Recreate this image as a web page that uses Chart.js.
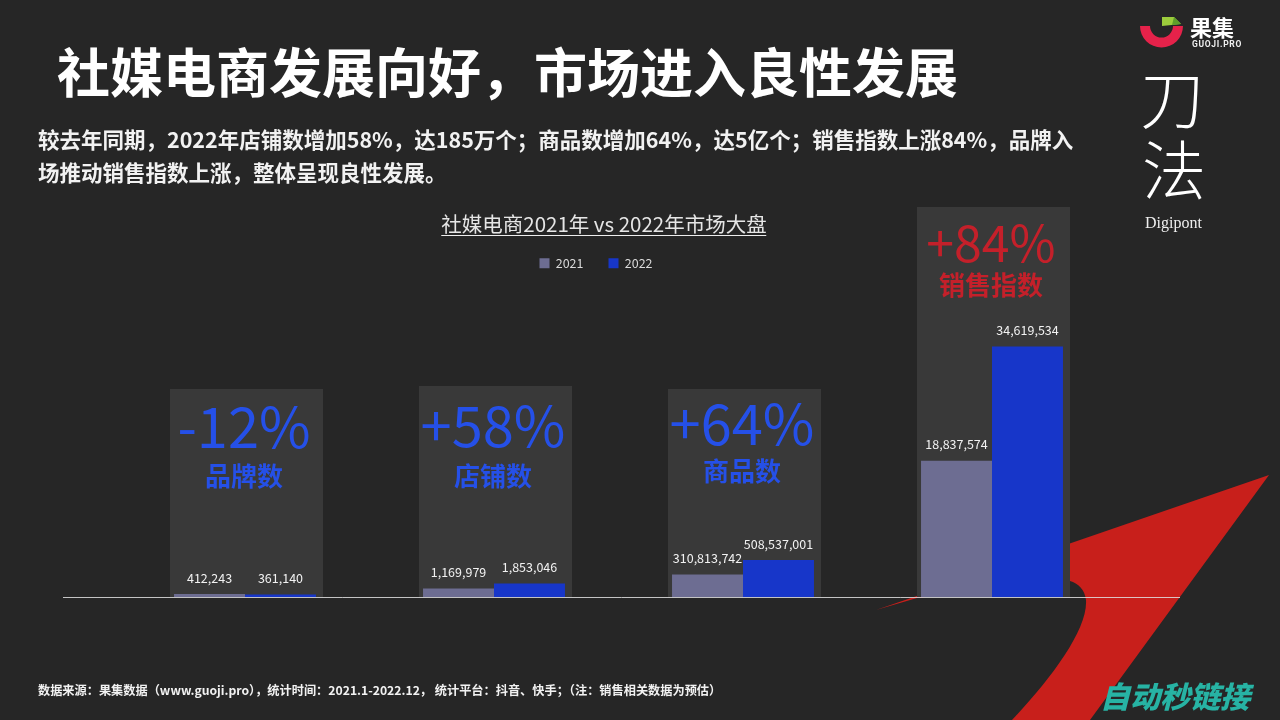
<!DOCTYPE html>
<html><head><meta charset="utf-8">
<script src="https://cdn.jsdelivr.net/npm/chart.js@4.4.0/dist/chart.umd.min.js"></script>
<style>
html,body{margin:0;padding:0;width:1280px;height:720px;overflow:hidden;background:#262626;font-family:'Noto Sans CJK SC',sans-serif;}
#bg{position:absolute;left:0;top:0;}
#wrap{position:absolute;left:0;top:0;width:1280px;height:720px;}
.t{position:absolute;white-space:nowrap;}
#title{left:57px;top:44px;font-size:53px;line-height:53px;font-weight:700;color:#fff;}
#sub{left:38px;top:122px;font-size:21.5px;line-height:33px;font-weight:700;color:#f2f2f2;}
#ctitle{left:604px;top:213px;transform:translateX(-50%);font-size:20.5px;line-height:20px;color:#e6e6e6;border-bottom:1px solid #eee;padding-bottom:2px;}
#foot{left:38px;top:684px;font-size:12.2px;line-height:12px;font-weight:700;color:#f2f2f2;}
#gj{left:1190px;top:15px;font-size:22px;line-height:22px;font-weight:700;color:#fff;}
#gjp{left:1192px;top:40px;font-size:8.5px;line-height:9px;font-weight:700;color:#eee;letter-spacing:0.7px;font-family:'Roboto',sans-serif;}
.big{font-size:64px;line-height:64px;color:#fff;font-weight:300;}
#d1{left:1140px;top:63px;}
#d2{left:1142px;top:134px;}
#dp{left:1145px;top:215px;font-size:16px;line-height:16px;color:#eee;font-family:'Liberation Serif','DejaVu Serif',serif;}
#wm{left:1100px;top:680px;font-size:30px;line-height:30px;font-weight:900;font-style:italic;color:#27b3a4;}
</style></head><body>
<svg id="bg" width="1280" height="720">
  <path d="M 876 610 L 1269 475 L 1090 720 L 1012 720 C 1050 680 1088 630 1086 600 C 1085 590 1078 583 1070 581 L 917 598 Z" fill="#c81f1b"/>
  <path d="M 1140 26 A 21.5 21.5 0 0 0 1183 26 L 1173 26 A 11.5 11.5 0 0 1 1150 26 Z" fill="#e5224a"/>
  <polygon points="1162,17 1174,17 1181,24 1162,26" fill="#9ccc3c"/>
  <polygon points="1174,17 1181,24 1172,25" fill="#5e9e2a"/>
</svg>
<div id="wrap"><canvas id="c" width="1280" height="720"></canvas></div>
<div class="t" id="title">社媒电商发展向好，市场进入良性发展</div>
<div class="t" id="sub">较去年同期，2022年店铺数增加58%，达185万个；商品数增加64%，达5亿个；销售指数上涨84%，品牌入<br>场推动销售指数上涨，整体呈现良性发展。</div>
<div class="t" id="ctitle">社媒电商2021年 vs 2022年市场大盘</div>
<div class="t" id="foot">数据来源：果集数据（www.guoji.pro），统计时间：2021.1-2022.12， 统计平台：抖音、快手；（注：销售相关数据为预估）</div>
<div class="t" id="gj">果集</div>
<div class="t" id="gjp">GUOJI.PRO</div>
<div class="t big" id="d1">刀</div>
<div class="t big" id="d2">法</div>
<div class="t" id="dp">Digipont</div>
<div class="t" id="wm">自动秒链接</div>
<script>
const categories = ['品牌数','店铺数','商品数','销售指数'];
const growthLabels = ['-12%','+58%','+64%','+84%'];
const seriesNames = ['2021','2022'];
const values2021 = [412243, 1169979, 310813742, 18837574];
const values2022 = [361140, 1853046, 508537001, 34619534];
const scaleGroup = ['main','main','goods','main'];

const COLORS = {y2021:'#6d6d92', y2022:'#1736c9', panel:'#393939', blue:'#2550e8', red:'#c4202a'};
const PANEL = {tops:[389,386,389,207], pctBase:[448,447,445,262], pctSize:[56,56,56,50], labCenter:[476,476,471,285]};

function pick(arr, group){ return arr.map((v,i)=> scaleGroup[i]===group ? v : null); }

const datasets = [
  {label:seriesNames[0], data:pick(values2021,'main'), backgroundColor:COLORS.y2021, yAxisID:'y'},
  {label:seriesNames[1], data:pick(values2022,'main'), backgroundColor:COLORS.y2022, yAxisID:'y'},
  {label:seriesNames[0], data:pick(values2021,'goods'), backgroundColor:COLORS.y2021, yAxisID:'yG'},
  {label:seriesNames[1], data:pick(values2022,'goods'), backgroundColor:COLORS.y2022, yAxisID:'yG'}
];

const deco = {
  id:'deco',
  beforeDatasetsDraw(chart){
    const ctx=chart.ctx, x=chart.scales.x, bottom=chart.chartArea.bottom;
    ctx.save();
    categories.forEach((c,i)=>{
      const cx=x.getPixelForValue(i);
      ctx.fillStyle=COLORS.panel;
      ctx.fillRect(cx-75, PANEL.tops[i], 153, bottom-PANEL.tops[i]);
      const col = i===3?COLORS.red:COLORS.blue;
      ctx.fillStyle=col; ctx.textAlign='center';
      ctx.textBaseline='alphabetic';
      ctx.font='400 '+PANEL.pctSize[i]+'px "Noto Sans CJK SC"';
      ctx.fillText(growthLabels[i], cx-1, PANEL.pctBase[i]);
      ctx.font='700 26px "Noto Sans CJK SC"';
      ctx.textBaseline='middle';
      ctx.fillText(c, cx-1, PANEL.labCenter[i]);
    });
    ctx.restore();
  },
  afterDatasetsDraw(chart){
    const ctx=chart.ctx;
    ctx.save();
    ctx.font='400 12.5px "Noto Sans CJK SC"'; ctx.fillStyle='#f2f2f2'; ctx.textAlign='center'; ctx.textBaseline='middle';
    chart.data.datasets.forEach((ds,di)=>{
      const meta=chart.getDatasetMeta(di);
      meta.data.forEach((el,i)=>{
        const v=ds.data[i]; if(v==null) return;
        ctx.fillText(v.toLocaleString('en-US'), el.x, el.y-16);
      });
    });
    const yb=Math.round(chart.chartArea.bottom)+0.5;
    ctx.strokeStyle='rgba(225,225,225,0.85)'; ctx.lineWidth=1;
    ctx.beginPath(); ctx.moveTo(63, yb); ctx.lineTo(1180, yb); ctx.stroke();
    ctx.restore();
  }
};

Chart.defaults.font.family='"Noto Sans CJK SC", sans-serif';
new Chart(document.getElementById('c'), {
  type:'bar',
  data:{labels:categories, datasets:datasets},
  plugins:[deco],
  options:{
    responsive:false, animation:false, devicePixelRatio:1,
    layout:{padding:{top:232,bottom:123,left:0,right:88}},
    datasets:{bar:{skipNull:true, barPercentage:1, categoryPercentage:0.57, borderWidth:0}},
    plugins:{
      legend:{display:true,position:'top',align:'center',
        labels:{boxWidth:10,boxHeight:10,padding:25,color:'#d9d9d9',font:{size:12.5},
          filter:(it)=>it.datasetIndex<2}},
      title:{display:false}, tooltip:{enabled:false}
    },
    scales:{
      x:{type:'category',display:false,offset:true},
      y:{position:'left',min:0,max:43.86e6,display:true,grid:{display:false},border:{display:false},ticks:{display:false},afterFit(s){s.width=120.5;}},
      yG:{position:'right',min:0,max:4.3707e9,display:true,grid:{display:false},border:{display:false},ticks:{display:false},afterFit(s){s.width=75.5;}}
    }
  }
});
</script>
</body></html>
